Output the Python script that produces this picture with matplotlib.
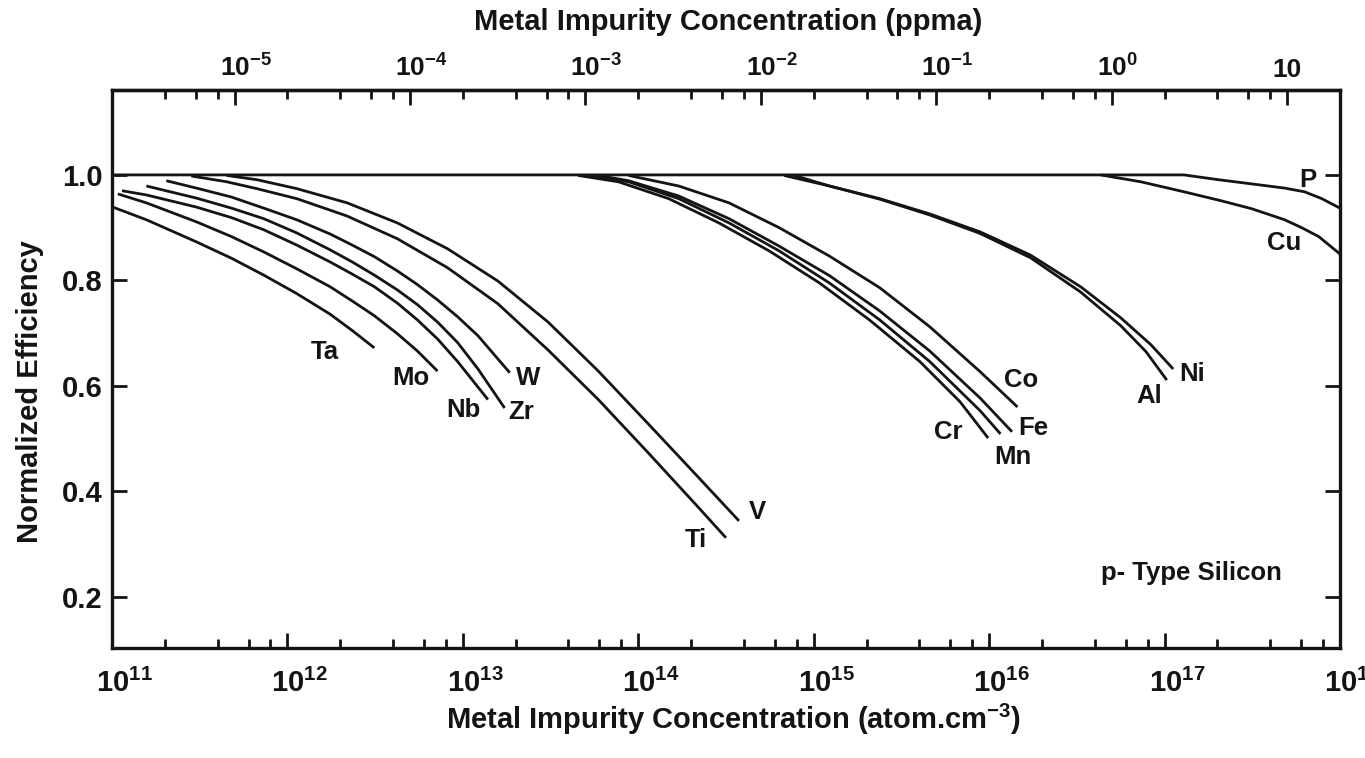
import numpy as np
import matplotlib.pyplot as plt
import matplotlib.transforms as mtransforms
from matplotlib.ticker import FixedLocator, LogLocator, NullFormatter

plt.rcParams['font.family'] = ['Liberation Sans', 'DejaVu Sans']
plt.rcParams['font.weight'] = 'bold'
plt.rcParams['mathtext.fontset'] = 'custom'
plt.rcParams['mathtext.rm'] = 'Liberation Sans:bold'
plt.rcParams['mathtext.bf'] = 'Liberation Sans:bold'
plt.rcParams['mathtext.default'] = 'bf'

# impurity concentration (atom/cm3) vs normalized cell efficiency, p-type Si
ta_x = [1.01e11, 1.57e11, 3.03e11, 4.80e11, 7.33e11, 1.13e12, 1.75e12, 2.34e12, 3.13e12]
ta_y = [0.939, 0.915, 0.873, 0.842, 0.810, 0.775, 0.736, 0.705, 0.672]

mo_x = [1.08e11, 1.57e11, 3.03e11, 4.80e11, 7.33e11, 1.13e12, 1.75e12, 2.34e12,
        3.13e12, 4.23e12, 5.51e12, 7.17e12]
mo_y = [0.964, 0.947, 0.911, 0.883, 0.854, 0.822, 0.788, 0.761, 0.733, 0.699,
        0.666, 0.628]

nb_x = [1.14e11, 1.57e11, 3.03e11, 4.80e11, 7.33e11, 1.13e12, 1.75e12, 2.34e12,
        3.13e12, 4.23e12, 5.51e12, 7.17e12, 9.34e12, 1.39e13]
nb_y = [0.970, 0.962, 0.939, 0.919, 0.896, 0.867, 0.835, 0.812, 0.788, 0.757,
        0.725, 0.689, 0.646, 0.574]

zr_x = [1.57e11, 3.03e11, 4.80e11, 7.33e11, 1.13e12, 1.75e12, 2.34e12, 3.13e12,
        4.23e12, 5.51e12, 7.17e12, 9.34e12, 1.22e13, 1.73e13]
zr_y = [0.979, 0.956, 0.937, 0.917, 0.890, 0.858, 0.835, 0.810, 0.782, 0.754,
        0.721, 0.682, 0.632, 0.558]

w_x = [2.04e11, 3.03e11, 4.80e11, 7.33e11, 1.13e12, 1.75e12, 2.34e12, 3.13e12,
       4.23e12, 5.51e12, 7.17e12, 9.34e12, 1.22e13, 1.85e13]
w_y = [0.989, 0.975, 0.958, 0.937, 0.915, 0.888, 0.867, 0.845, 0.818, 0.792,
       0.763, 0.731, 0.695, 0.625]

v_x = [4.50e11, 6.68e11, 1.13e12, 2.19e12, 4.23e12, 8.18e12, 1.58e13, 3.06e13,
       5.92e13, 1.14e14, 2.21e14, 3.75e14]
v_y = [0.999, 0.991, 0.974, 0.947, 0.909, 0.860, 0.799, 0.721, 0.628, 0.528,
       0.426, 0.344]

ti_x = [2.83e11, 4.50e11, 6.68e11, 1.13e12, 2.19e12, 4.23e12, 8.18e12, 1.58e13,
        3.06e13, 5.92e13, 1.14e14, 2.21e14, 3.16e14]
ti_y = [0.998, 0.987, 0.974, 0.955, 0.922, 0.879, 0.824, 0.756, 0.668, 0.574,
        0.473, 0.369, 0.312]

co_x = [8.79e13, 1.70e14, 3.29e14, 6.35e14, 1.23e15, 2.38e15, 4.59e15, 8.88e15, 1.45e16]
co_y = [0.999, 0.979, 0.947, 0.900, 0.846, 0.786, 0.712, 0.627, 0.560]

fe_x = [5.92e13, 8.79e13, 1.70e14, 3.29e14, 6.35e14, 1.23e15, 2.38e15, 4.59e15,
        8.88e15, 1.35e16]
fe_y = [0.999, 0.989, 0.960, 0.917, 0.865, 0.809, 0.742, 0.666, 0.577, 0.513]

mn_x = [5.19e13, 8.79e13, 1.70e14, 3.29e14, 6.35e14, 1.23e15, 2.38e15, 4.59e15,
        8.88e15, 1.16e16]
mn_y = [0.999, 0.987, 0.955, 0.909, 0.856, 0.795, 0.725, 0.646, 0.553, 0.509]

cr_x = [4.54e13, 7.70e13, 1.49e14, 2.88e14, 5.57e14, 1.08e15, 2.08e15, 4.03e15,
        6.82e15, 9.87e15]
cr_y = [0.999, 0.987, 0.955, 0.909, 0.856, 0.795, 0.725, 0.646, 0.570, 0.501]

ni_x = [6.78e14, 1.23e15, 2.38e15, 4.59e15, 8.88e15, 1.72e16, 3.32e16, 5.63e16,
        8.36e16, 1.12e17]
ni_y = [0.999, 0.979, 0.955, 0.926, 0.892, 0.848, 0.788, 0.729, 0.678, 0.632]

al_x = [7.74e14, 1.23e15, 2.38e15, 4.59e15, 8.88e15, 1.72e16, 3.32e16, 5.63e16,
        7.83e16, 1.03e17]
al_y = [0.999, 0.979, 0.954, 0.924, 0.889, 0.843, 0.778, 0.714, 0.665, 0.611]

cu_x = [4.32e16, 7.32e16, 1.29e17, 2.10e17, 3.13e17, 4.83e17, 6.04e17, 7.57e17, 1.0e18]
cu_y = [1.000, 0.987, 0.968, 0.951, 0.936, 0.915, 0.900, 0.883, 0.850]

p_x = [1.0e11, 1.29e17, 2.02e17, 3.13e17, 4.83e17, 6.28e17, 7.87e17, 1.0e18]
p_y = [1.000, 1.000, 0.991, 0.983, 0.975, 0.968, 0.955, 0.937]

# element name, curve, label offset from the curve end (pixels)
end_labels = [
    ('Ta', ta_x, ta_y, (-50, -4)),
    ('Mo', mo_x, mo_y, (-27, -7)),
    ('Nb', nb_x, nb_y, (-25, -10)),
    ('Zr', zr_x, zr_y, (17, -4)),
    ('W', w_x, w_y, (18, -5)),
    ('V', v_x, v_y, (18, 9)),
    ('Ti', ti_x, ti_y, (-30, -2)),
    ('Co', co_x, co_y, (4, 27)),
    ('Fe', fe_x, fe_y, (21, 4)),
    ('Mn', mn_x, mn_y, (12, -23)),
    ('Cr', cr_x, cr_y, (-40, 6)),
    ('Ni', ni_x, ni_y, (19, -5)),
    ('Al', al_x, al_y, (-18, -16)),
]

SI_ATOMS_PER_PPMA = 5e16  # 5e22 atoms/cm3 * 1e-6

fig = plt.figure(figsize=(13.65, 7.58), dpi=100)
ax = fig.add_axes([112/1365, 1 - 648/758, (1340 - 112)/1365, (648 - 90)/758])

ink = '#141414'
line_kw = dict(color=ink, lw=2.0, solid_capstyle='butt', solid_joinstyle='round')
label_kw = dict(ha='center', va='center', fontsize=18.5, fontweight='bold', color=ink)

for name, xs, ys, off in end_labels:
    ax.plot(xs, ys, **line_kw)
    ax.annotate(name, xy=(xs[-1], ys[-1]), xytext=off, textcoords='offset pixels',
                **label_kw)
ax.plot(cu_x, cu_y, **line_kw)
ax.plot(p_x, p_y, **line_kw)
ax.text(6.55e17, 0.991, 'P', **label_kw)
ax.text(4.83e17, 0.871, 'Cu', **label_kw)
ax.text(1.42e17, 0.245, 'p- Type Silicon', **label_kw)

ax.set_xscale('log')
ax.set_xlim(1e11, 1e18)
ax.set_ylim(0.103, 1.161)

# bottom axis: atom/cm3
decades = [1e11, 1e12, 1e13, 1e14, 1e15, 1e16, 1e17, 1e18]
ax.xaxis.set_major_locator(FixedLocator(decades))
ax.set_xticklabels([r'$10^{%d}$' % int(np.log10(d)) for d in decades])
ax.xaxis.set_minor_locator(LogLocator(base=10, subs=(2, 4, 6, 8), numticks=30))
ax.xaxis.set_minor_formatter(NullFormatter())
ax.tick_params(axis='x', which='major', direction='in', length=11, width=2, top=False,
               labelsize=21, pad=15, colors=ink)
ax.tick_params(axis='x', which='minor', direction='in', length=6.5, width=2, top=False,
               colors=ink)
# keep the "10" centred on the tick, exponent hanging to the right
shift_bottom = mtransforms.ScaledTranslation(-16/100, 0, fig.dpi_scale_trans)
for lbl in ax.get_xticklabels():
    lbl.set_ha('left')
    lbl.set_transform(lbl.get_transform() + shift_bottom)

ax.set_yticks([0.2, 0.4, 0.6, 0.8, 1.0])
ax.set_yticklabels(['0.2', '0.4', '0.6', '0.8', '1.0'])
ax.tick_params(axis='y', direction='in', length=11, width=2, right=True, labelsize=21,
               pad=7, colors=ink)

for sp in ax.spines.values():
    sp.set_linewidth(2.4)
    sp.set_color(ink)

# top axis: ppma
sec = ax.secondary_xaxis('top', functions=(lambda c: c / SI_ATOMS_PER_PPMA,
                                           lambda p: p * SI_ATOMS_PER_PPMA))
ppma_ticks = [1e-5, 1e-4, 1e-3, 1e-2, 1e-1, 1e0, 1e1]
ppma_labels = [r'$10^{-5}$', r'$10^{-4}$', r'$10^{-3}$', r'$10^{-2}$',
               r'$10^{-1}$', r'$10^{0}$', '10']
sec.set_xticks(ppma_ticks)
sec.set_xticklabels(ppma_labels)
sec.xaxis.set_minor_locator(LogLocator(base=10, subs=(2, 4, 6, 8), numticks=30))
sec.xaxis.set_minor_formatter(NullFormatter())
sec.tick_params(axis='x', which='major', direction='in', length=11, width=2,
                labelsize=19, pad=6, colors=ink)
sec.tick_params(axis='x', which='minor', direction='in', length=6.5, width=2, colors=ink)
sec.spines['top'].set_linewidth(2.4)
sec.spines['top'].set_color(ink)
shift_top = mtransforms.ScaledTranslation(-15/100, 0, fig.dpi_scale_trans)
for lbl in sec.get_xticklabels():
    lbl.set_ha('left')
    lbl.set_transform(lbl.get_transform() + shift_top)

sec.set_xlabel('Metal Impurity Concentration (ppma)', fontsize=21, fontweight='bold',
               color=ink, va='center')
sec.xaxis.set_label_coords(0.502, 1.122, transform=ax.transAxes)

ax.set_xlabel(r'Metal Impurity Concentration (atom.cm$^{-3}$)', fontsize=21,
              fontweight='bold', color=ink, va='center')
ax.xaxis.set_label_coords(0.506, -0.128)
ax.set_ylabel('Normalized Efficiency', fontsize=21, fontweight='bold', color=ink,
              va='center')
ax.yaxis.set_label_coords(-0.067, 0.459)

fig.savefig('out.png', dpi=100)
